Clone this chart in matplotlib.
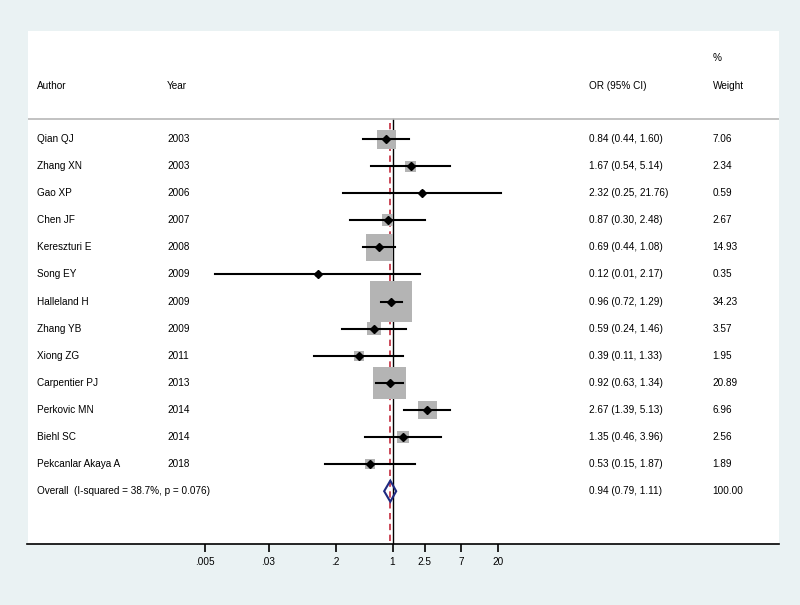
import numpy as np
import matplotlib
matplotlib.use("Agg")
import matplotlib.pyplot as plt
from matplotlib.patches import Rectangle, Polygon
from matplotlib.transforms import blended_transform_factory

# study data (lower bound of Song EY drawn a bit below 0.01, as in the picture)
authors = ["Qian QJ", "Zhang XN", "Gao XP", "Chen JF", "Kereszturi E", "Song EY",
           "Halleland H", "Zhang YB", "Xiong ZG", "Carpentier PJ", "Perkovic MN",
           "Biehl SC", "Pekcanlar Akaya A"]
years = [2003, 2003, 2006, 2007, 2008, 2009, 2009, 2009, 2011, 2013, 2014, 2014, 2018]
odds = [0.84, 1.67, 2.32, 0.87, 0.69, 0.12, 0.96, 0.59, 0.39, 0.92, 2.67, 1.35, 0.53]
lower = [0.44, 0.54, 0.25, 0.30, 0.44, 0.0066, 0.72, 0.24, 0.11, 0.63, 1.39, 0.46, 0.15]
upper = [1.60, 5.14, 21.76, 2.48, 1.08, 2.17, 1.29, 1.46, 1.33, 1.34, 5.13, 3.96, 1.87]
weights = [7.06, 2.34, 0.59, 2.67, 14.93, 0.35, 34.23, 3.57, 1.95, 20.89, 6.96, 2.56, 1.89]

overall_label = "Overall  (I-squared = 38.7%, p = 0.076)"
overall_or, overall_lo, overall_hi = 0.94, 0.79, 1.11

tick_vals = [0.005, 0.03, 0.2, 1, 2.5, 7, 20]
tick_labels = [".005", ".03", ".2", "1", "2.5", "7", "20"]

plt.rcParams['font.family'] = ['Liberation Sans', 'DejaVu Sans']
fs = 7.2

W, H = 800, 605
fig = plt.figure(figsize=(W / 100, H / 100), dpi=100, facecolor="#EAF2F3")
ax = fig.add_axes([27.5 / W, 1 - 544 / H, (779 - 27.5) / W, (544 - 30.7) / H])
ax.set_facecolor("white")

PX_DEC = 81.4   # pixels per decade
PX_ROW = 27.07  # pixels per row
ax.set_xscale("log")
ax.set_xlim(10 ** ((27.5 - 392.5) / PX_DEC), 10 ** ((779 - 392.5) / PX_DEC))
ax.set_ylim(14.95, -4.0)

for s in ["left", "right", "top"]:
    ax.spines[s].set_visible(False)
ax.spines["bottom"].set_linewidth(1.2)
ax.set_yticks([])
ax.set_xticks(tick_vals)
ax.set_xticklabels(tick_labels, fontsize=fs)
ax.minorticks_off()
ax.tick_params(axis="x", direction="out", length=5.5, width=1.2, pad=4)

# reference lines
ax.plot([1, 1], [-0.75, 14.95], color="black", lw=1.0, zorder=1)
ax.plot([overall_or, overall_or], [-0.6, 14.95], color="#c83c4c", lw=1.3,
        dashes=(3.5, 2.5), zorder=1)
ax.axhline(-0.75, color="#b8b8b8", lw=1.2, zorder=1)

rows = np.arange(len(authors))
for i, (o, lo, hi, w) in enumerate(zip(odds, lower, upper, weights)):
    side = 7.13 * np.sqrt(w)
    hd = side / 2 / PX_DEC
    hr = side / 2 / PX_ROW
    ax.add_patch(Rectangle((o * 10 ** -hd, i - hr), o * 10 ** hd - o * 10 ** -hd, 2 * hr,
                           facecolor="#b4b4b4", edgecolor="none", zorder=2))
    ax.plot([lo, hi], [i, i], color="black", lw=1.5, zorder=3)
    ax.plot(o, i, marker="D", color="black", markersize=4.5, zorder=4)

yo = len(authors)
dh = 10.5 / PX_ROW
ax.add_patch(Polygon([(overall_lo, yo), (overall_or, yo - dh), (overall_hi, yo), (overall_or, yo + dh)],
                     closed=True, fill=False, edgecolor="#1f2a80", lw=1.5, zorder=4))

# text columns
tr = blended_transform_factory(fig.transFigure, ax.transData)
x_auth, x_year, x_or, x_wt = 37 / W, 167 / W, 589 / W, 712.5 / W
hy = -1.97
ax.text(x_wt, -3.0, "%", transform=tr, fontsize=fs, va="center", ha="left")
ax.text(x_auth, hy, "Author", transform=tr, fontsize=fs, va="center", ha="left")
ax.text(x_year, hy, "Year", transform=tr, fontsize=fs, va="center", ha="left")
ax.text(x_or, hy, "OR (95% CI)", transform=tr, fontsize=fs, va="center", ha="left")
ax.text(x_wt, hy, "Weight", transform=tr, fontsize=fs, va="center", ha="left")

for i in rows:
    ax.text(x_auth, i, authors[i], transform=tr, fontsize=fs, va="center", ha="left")
    ax.text(x_year, i, str(years[i]), transform=tr, fontsize=fs, va="center", ha="left")
    ax.text(x_or, i, "%.2f (%.2f, %.2f)" % (odds[i], lower[i], upper[i]),
            transform=tr, fontsize=fs, va="center", ha="left")
    ax.text(x_wt, i, "%.2f" % weights[i], transform=tr, fontsize=fs, va="center", ha="left")

ax.text(x_auth, yo, overall_label, transform=tr, fontsize=fs, va="center", ha="left")
ax.text(x_or, yo, "%.2f (%.2f, %.2f)" % (overall_or, overall_lo, overall_hi),
        transform=tr, fontsize=fs, va="center", ha="left")
ax.text(x_wt, yo, "100.00", transform=tr, fontsize=fs, va="center", ha="left")

fig.savefig("out.png", dpi=100, facecolor=fig.get_facecolor())
